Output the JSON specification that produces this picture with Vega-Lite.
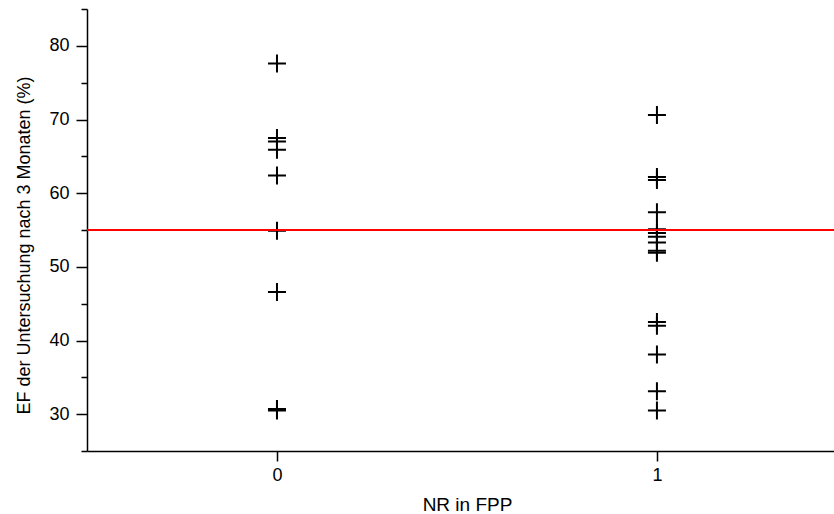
{
  "$schema": "https://vega.github.io/schema/vega-lite/v6.json",
  "autosize": {"type": "none"},
  "padding": {"left": 87, "top": 9, "right": 0, "bottom": 63},
  "width": 747,
  "height": 442,
  "background": "white",
  "config": {
    "view": {"stroke": null},
    "font": "Liberation Sans",
    "axis": {
      "grid": false,
      "domainColor": "black",
      "domainWidth": 1.5,
      "tickColor": "black",
      "tickWidth": 1.5,
      "labelColor": "black",
      "titleColor": "black",
      "labelFont": "Liberation Sans",
      "titleFont": "Liberation Sans",
      "titleFontWeight": "normal",
      "labelOverlap": false
    }
  },
  "data": {
    "values": [
      {"nr": 0, "ef": 77.6},
      {"nr": 0, "ef": 67.5},
      {"nr": 0, "ef": 67.0},
      {"nr": 0, "ef": 65.9},
      {"nr": 0, "ef": 62.4},
      {"nr": 0, "ef": 54.9},
      {"nr": 0, "ef": 46.6},
      {"nr": 0, "ef": 30.7},
      {"nr": 0, "ef": 30.5},
      {"nr": 1, "ef": 70.6},
      {"nr": 1, "ef": 62.2},
      {"nr": 1, "ef": 61.8},
      {"nr": 1, "ef": 57.4},
      {"nr": 1, "ef": 55.1},
      {"nr": 1, "ef": 54.6},
      {"nr": 1, "ef": 54.1},
      {"nr": 1, "ef": 53.3},
      {"nr": 1, "ef": 52.2},
      {"nr": 1, "ef": 51.9},
      {"nr": 1, "ef": 42.5},
      {"nr": 1, "ef": 42.0},
      {"nr": 1, "ef": 38.1},
      {"nr": 1, "ef": 33.1},
      {"nr": 1, "ef": 30.5}
    ]
  },
  "layer": [
    {
      "mark": {
        "type": "point",
        "shape": "M-1,0H1M0,-1V1",
        "filled": false,
        "color": "black",
        "strokeWidth": 2,
        "size": 324,
        "opacity": 1
      },
      "encoding": {
        "x": {
          "field": "nr",
          "type": "quantitative",
          "scale": {"domain": [-0.5, 1.466], "nice": false, "zero": false},
          "axis": {
            "values": [0, 1],
            "title": "NR in FPP",
            "tickSize": 10,
            "labelFontSize": 18,
            "labelPadding": 5,
            "titleFontSize": 19,
            "titlePadding": 11,
            "titleX": 380,
            "format": "d"
          }
        },
        "y": {
          "field": "ef",
          "type": "quantitative",
          "scale": {"domain": [25, 85], "nice": false, "zero": false},
          "axis": {
            "values": [25, 30, 35, 40, 45, 50, 55, 60, 65, 70, 75, 80, 85],
            "tickCount": 20,
            "labelExpr": "datum.value % 10 === 0 ? datum.label : ''",
            "tickSize": {"condition": {"test": "datum.value % 10 === 0", "value": 11}, "value": 6},
            "title": "EF der Untersuchung nach 3 Monaten (%)",
            "labelFontSize": 18,
            "labelPadding": 7,
            "titleFontSize": 18,
            "titlePadding": 15,
            "titleY": 236
          }
        }
      }
    },
    {
      "mark": {"type": "rule", "color": "#ff0000", "strokeWidth": 1},
      "encoding": {"y": {"datum": 55}}
    }
  ]
}
